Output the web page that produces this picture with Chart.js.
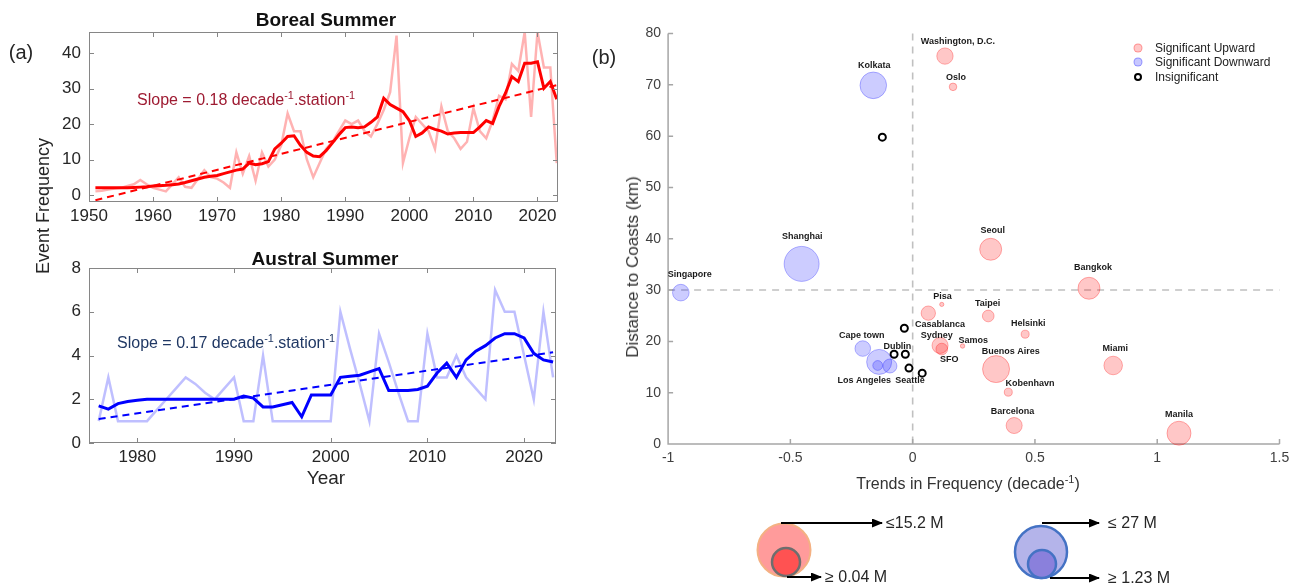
<!DOCTYPE html>
<html>
<head>
<meta charset="utf-8">
<script src="https://cdn.jsdelivr.net/npm/chart.js@4.4.1/dist/chart.umd.min.js"></script>
<style>
  body { margin:0; background:#fff; width:1298px; height:588px; position:relative; overflow:hidden;
         font-family:"Liberation Sans", Arial, sans-serif; color:#262626; }
  .abs { position:absolute; white-space:nowrap; }
  .c { transform:translate(-50%,-50%); }
  .vc { transform:translateY(-50%); }
  canvas { position:absolute; }
  sup { font-size:0.68em; vertical-align:0.55em; line-height:0; }
  .dot { position:absolute; border-radius:50%; box-sizing:border-box; transform:translate(-50%,-50%); }
</style>
</head>
<body>

<canvas id="boreal" width="580" height="230" style="left:0;top:0"></canvas>
<canvas id="austral" width="580" height="240" style="left:0;top:240px"></canvas>
<canvas id="cities" width="698" height="500" style="left:600px;top:0"></canvas>

<!-- panel (a) text -->
<div class="abs c" style="left:21px;top:52px;font-size:20px;">(a)</div>
<div class="abs c" style="left:326px;top:20px;font-size:19px;font-weight:bold;color:#111;">Boreal Summer</div>
<div class="abs c" style="left:325px;top:259px;font-size:19px;font-weight:bold;color:#111;">Austral Summer</div>
<div class="abs c" style="left:43px;top:206px;font-size:18px;transform:translate(-50%,-50%) rotate(-90deg);">Event Frequency</div>
<div class="abs c" style="left:326px;top:478px;font-size:19px;">Year</div>
<div class="abs vc" style="left:137px;top:100px;font-size:16px;color:#9e1b32;">Slope = 0.18 decade<sup>-1</sup>.station<sup>-1</sup></div>
<div class="abs vc" style="left:117px;top:343px;font-size:16px;color:#203864;">Slope = 0.17 decade<sup>-1</sup>.station<sup>-1</sup></div>

<!-- panel (b) text -->
<div class="abs c" style="left:604px;top:57px;font-size:20px;">(b)</div>
<div class="abs c" style="left:633px;top:267px;font-size:17px;color:#333;transform:translate(-50%,-50%) rotate(-90deg);">Distance to Coasts (km)</div>
<div class="abs c" style="left:968px;top:484px;font-size:16px;color:#333;">Trends in Frequency (decade<sup>-1</sup>)</div>

<!-- category legend -->
<div class="dot" style="left:1138px;top:48px;width:9px;height:9px;background:rgba(255,0,0,0.22);border:1px solid rgba(255,0,0,0.3);"></div>
<div class="dot" style="left:1138px;top:62px;width:9px;height:9px;background:rgba(0,0,255,0.22);border:1px solid rgba(0,0,255,0.3);"></div>
<div class="dot" style="left:1138px;top:77px;width:8px;height:8px;background:#fff;border:2px solid #000;"></div>
<div class="abs vc" style="left:1155px;top:48px;font-size:12px;color:#222;">Significant Upward</div>
<div class="abs vc" style="left:1155px;top:62px;font-size:12px;color:#222;">Significant Downward</div>
<div class="abs vc" style="left:1155px;top:77px;font-size:12px;color:#222;">Insignificant</div>

<!-- bubble size legend -->
<svg class="abs" style="left:740px;top:500px" width="420" height="88">
  <defs>
    <marker id="ah" markerWidth="11" markerHeight="9" refX="10" refY="4.5" orient="auto" markerUnits="userSpaceOnUse">
      <path d="M0,0 L11,4.5 L0,9 z" fill="#000"/>
    </marker>
  </defs>
  <circle cx="44" cy="50" r="26.5" fill="#ff9b9b" stroke="#f4b183" stroke-width="2"/>
  <circle cx="46" cy="62" r="14" fill="#ff5252" stroke="#6e6e6e" stroke-width="2.5"/>
  <line x1="41" y1="23" x2="142" y2="23" stroke="#000" stroke-width="2" marker-end="url(#ah)"/>
  <line x1="47" y1="77" x2="81" y2="77" stroke="#000" stroke-width="2" marker-end="url(#ah)"/>
  <circle cx="301" cy="52" r="26" fill="#b4b4ea" stroke="#4472c4" stroke-width="2.5"/>
  <circle cx="302" cy="64" r="14" fill="#8a80dc" stroke="#4472c4" stroke-width="2.5"/>
  <line x1="302" y1="23" x2="359" y2="23" stroke="#000" stroke-width="2" marker-end="url(#ah)"/>
  <line x1="310" y1="78" x2="359" y2="78" stroke="#000" stroke-width="2" marker-end="url(#ah)"/>
</svg>
<div class="abs vc" style="left:886px;top:523px;font-size:16px;">≤15.2 M</div>
<div class="abs vc" style="left:825px;top:577px;font-size:16px;">≥ 0.04 M</div>
<div class="abs vc" style="left:1108px;top:523px;font-size:16px;">≤ 27 M</div>
<div class="abs vc" style="left:1108px;top:578px;font-size:16px;">≥ 1.23 M</div>

<script>
// ---- (a) Boreal summer: yearly counts, smoothed curve, linear trend ----
var borealYears = [1951,1952,1953,1954,1955,1956,1957,1958,1959,1960,
                   1961,1962,1963,1964,1965,1966,1967,1968,1969,1970,
                   1971,1972,1973,1974,1975,1976,1977,1978,1979,1980,
                   1981,1982,1983,1984,1985,1986,1987,1988,1989,1990,
                   1991,1992,1993,1994,1995,1996,1997,1998,1999,2000,
                   2001,2002,2003,2004,2005,2006,2007,2008,2009,2010,
                   2011,2012,2013,2014,2015,2016,2017,2018,2019,2020,
                   2021,2022,2023];
var borealRaw = [1,1.2,1.5,1.8,2,2.5,3,4.2,3,2,
                 1.5,1,3,5,2.3,2,4.5,7,5,4.6,
                 3.5,2,12,6,11,4,12,8,10,14,
                 23,18,18,10,5,9,13,15,18,21,
                 20,21,18,16.5,20,24,29,45,9,16,
                 22,20,18,13,25,18,16,13,15,24.5,
                 18,16,21,28,27,37,35,46,22,46,
                 36,36,9];
var borealSmooth = [2,2,2,2,2,2,2.1,2.2,2.3,2.5,
                    2.6,2.7,2.9,3.1,3.5,4,4.5,5,5.3,5.5,
                    6,6.5,7,7.3,9,8.5,8.8,9.4,13,14.6,
                    16.5,16.7,14,12,11,10.8,12.5,14.7,17,19,
                    19.2,19,19.2,20.5,22,27.3,25.5,24.5,23.5,21,
                    16.5,17.5,19.2,18.5,18,17.2,17.5,17.6,17.6,17.6,
                    19.2,21,20.2,25,28.7,33.4,32,37.2,37.2,37.6,
                    30.1,32,27];
var borealTrendYears = [1951, 2023];
var borealTrendValues = [-1.5, 31];
var borealXTicks = [1950,1960,1970,1980,1990,2000,2010,2020];
var borealYTicks = [0,10,20,30,40];

// ---- (a) Austral summer ----
var australYears = [1976,1977,1978,1979,1980,1981,1982,1983,1984,1985,
                    1986,1987,1988,1989,1990,1991,1992,1993,1994,1995,
                    1996,1997,1998,1999,2000,2001,2002,2003,2004,2005,
                    2006,2007,2008,2009,2010,2011,2012,2013,2014,2015,
                    2016,2017,2018,2019,2020,2021,2022,2023];
var australRaw = [1,3,1,1,1,1,1.5,2,2.5,3,
                  2.7,2.3,2,2.5,3,1,1,4,1,1,
                  1,1,1,1,1,6,4.3,2.7,1,5,
                  3.7,2.3,1,1,5,3,3,4,3,2.5,
                  2,7,6,6,4,2,6,3];
var australSmooth = [1.7,1.55,1.8,1.9,1.95,2,2,2,2,2,
                     2,2,2,2,2,2.15,2.05,1.65,1.65,1.75,
                     1.85,1.2,2.2,2.2,2.2,3.0,3.05,3.1,3.25,3.4,
                     2.4,2.4,2.4,2.45,2.6,3.2,3.65,3.0,3.8,4.2,
                     4.45,4.8,5.0,5.0,4.8,4.1,3.8,3.7];
var australTrendYears = [1976, 2023];
var australTrendValues = [1.1, 4.15];
var australXTicks = [1980,1990,2000,2010,2020];
var australYTicks = [0,2,4,6,8];

// ---- (b) cities: trend (per decade), distance to coast (km), population (M) ----
var upCities = ['Washington, D.C.','Oslo','Seoul','Bangkok','Pisa','Casablanca','Taipei','Helsinki',
                'Samos','Sydney','SFO','Buenos Aires','Kobenhavn','Barcelona','Miami','Manila'];
var upTrend = [0.132,0.165,0.319,0.721,0.119,0.064,0.309,0.46,0.204,0.112,0.119,0.341,0.391,0.415,0.82,1.089];
var upDistance = [75.6,69.6,37.95,30.35,27.2,25.5,24.95,21.4,19.1,19.2,18.5,14.6,10.1,3.6,15.3,2.1];
var upPopulation = [4.7,0.56,9.5,9.5,0.04,3.4,2.0,0.66,0.06,4.5,2.0,15.2,0.66,4.5,6.4,11.6];

var downCities = ['Kolkata','Shanghai','Singapore','Cape town','Los Angeles','',''];
var downTrend = [-0.161,-0.454,-0.948,-0.204,-0.137,-0.143,-0.093];
var downDistance = [69.9,35.1,29.5,18.6,16.0,15.3,15.2];
var downPopulation = [14.7,27,4.9,4.2,12.8,1.23,3.2];

var insigCities = ['','','Dublin','','Seattle',''];
var insigTrend = [-0.124,-0.034,-0.076,-0.03,-0.015,0.039];
var insigDistance = [59.8,22.55,17.5,17.5,14.8,13.8];

var cityXTicks = [-1,-0.5,0,0.5,1,1.5];
var cityYTicks = [0,10,20,30,40,50,60,70,80];
var trendZero = 0;
var coastLine = 30;

// label placement (pixels from the bubble centre)
var labelOffsets = {
  'Washington, D.C.':[13,-15], 'Oslo':[3,-9.5], 'Seoul':[2,-18.6], 'Bangkok':[4,-21], 'Pisa':[0.7,-8.3],
  'Casablanca':[11.7,11.7], 'Taipei':[-0.6,-12], 'Helsinki':[3,-10.7], 'Samos':[10.6,-5.7],
  'Sydney':[-3.3,-10], 'SFO':[7.6,10.3], 'Buenos Aires':[14.7,-17.3], 'Kobenhavn':[21.7,-8.7],
  'Barcelona':[-1.6,-13.7], 'Miami':[2,-17], 'Manila':[0,-19],
  'Kolkata':[1,-19.6], 'Shanghai':[0.6,-27], 'Singapore':[9,-18], 'Cape town':[-1,-13],
  'Los Angeles':[-15,19], 'Dublin':[3.3,-8], 'Seattle':[1,12.7]
};

var FONT = '"Liberation Sans", Arial, sans-serif';
Chart.defaults.font.family = FONT;
Chart.defaults.animation = false;

function pts(xs, ys) {
  return xs.map(function (x, i) { return { x: x, y: ys[i] }; });
}

var boxTicks = {
  id: 'boxTicks',
  afterDraw: function (chart) {
    var ctx = chart.ctx, a = chart.chartArea, x = chart.scales.x, y = chart.scales.y;
    ctx.save();
    ctx.strokeStyle = '#868686';
    ctx.lineWidth = 1;
    ctx.strokeRect(Math.round(a.left) + 0.5, Math.round(a.top) + 0.5,
                   Math.round(a.width) - 1, Math.round(a.height) - 1);
    ctx.beginPath();
    x.ticks.forEach(function (t) {
      var px = Math.round(x.getPixelForValue(t.value)) + 0.5;
      ctx.moveTo(px, a.bottom); ctx.lineTo(px, a.bottom - 5);
      ctx.moveTo(px, a.top); ctx.lineTo(px, a.top + 5);
    });
    y.ticks.forEach(function (t) {
      var py = Math.round(y.getPixelForValue(t.value)) + 0.5;
      ctx.moveTo(a.left, py); ctx.lineTo(a.left + 5, py);
      ctx.moveTo(a.right, py); ctx.lineTo(a.right - 5, py);
    });
    ctx.stroke();
    ctx.restore();
  }
};

function seriesChart(id, years, raw, smooth, trendX, trendY, color, faint, xr, yr, xTicks, yTicks, pad, xH) {
  return new Chart(document.getElementById(id).getContext('2d'), {
    type: 'line',
    data: {
      datasets: [
        { data: pts(years, smooth), borderColor: color, borderWidth: 3, pointRadius: 0, tension: 0 },
        { data: pts(trendX, trendY), borderColor: color, borderWidth: 2, borderDash: [7, 5], pointRadius: 0 },
        { data: pts(years, raw), borderColor: faint, borderWidth: 2.5, pointRadius: 0, tension: 0 }
      ]
    },
    options: {
      responsive: false,
      layout: { padding: pad },
      plugins: { legend: { display: false }, tooltip: { enabled: false } },
      scales: {
        x: {
          type: 'linear', min: xr[0], max: xr[1],
          grid: { display: false, drawTicks: false }, border: { display: false },
          afterBuildTicks: function (s) { s.ticks = xTicks.map(function (v) { return { value: v }; }); },
          afterFit: function (s) { s.height = xH; },
          ticks: { font: { size: 17 }, color: '#262626', padding: 4, maxRotation: 0, autoSkip: false,
                   callback: function (v) { return String(v); } }
        },
        y: {
          min: yr[0], max: yr[1],
          grid: { display: false, drawTicks: false }, border: { display: false },
          afterBuildTicks: function (s) { s.ticks = yTicks.map(function (v) { return { value: v }; }); },
          afterFit: function (s) { s.width = 89; },
          ticks: { font: { size: 17 }, color: '#262626', padding: 8,
                   callback: function (v) { return String(v); } }
        }
      }
    },
    plugins: [boxTicks]
  });
}

seriesChart('boreal', borealYears, borealRaw, borealSmooth, borealTrendYears, borealTrendValues,
            '#ff0000', 'rgba(255,0,0,0.3)', [1950, 2023.2], [-2, 46], borealXTicks, borealYTicks,
            { top: 32, right: 22, bottom: 0, left: 0 }, 28);
seriesChart('austral', australYears, australRaw, australSmooth, australTrendYears, australTrendValues,
            '#0000ff', 'rgba(0,0,255,0.25)', [1975, 2023.3], [0, 8], australXTicks, australYTicks,
            { top: 28, right: 24, bottom: 0, left: 0 }, 37);

// ---- (b) bubble chart ----
function radius(pop) { return 1.5 + 12 * Math.sqrt(pop / 15.2); }

function bubbles(cities, tr, dist, pop, r0) {
  return cities.map(function (c, i) {
    return { x: tr[i], y: dist[i], r: pop ? radius(pop[i]) : r0, name: c };
  });
}

var cityDecor = {
  id: 'cityDecor',
  beforeDatasetsDraw: function (chart) {
    var ctx = chart.ctx, a = chart.chartArea, x = chart.scales.x, y = chart.scales.y;
    ctx.save();
    ctx.strokeStyle = '#c0c0c0';
    ctx.lineWidth = 1.6;
    ctx.setLineDash([7, 6]);
    var x0 = x.getPixelForValue(trendZero), y30 = y.getPixelForValue(coastLine);
    ctx.beginPath();
    ctx.moveTo(x0, a.top); ctx.lineTo(x0, a.bottom);
    ctx.moveTo(a.left, y30); ctx.lineTo(a.right, y30);
    ctx.stroke();
    ctx.setLineDash([]);
    ctx.strokeStyle = '#a6a6a6';
    ctx.lineWidth = 1.5;
    ctx.beginPath();
    ctx.moveTo(a.left, a.top); ctx.lineTo(a.left, a.bottom); ctx.lineTo(a.right, a.bottom);
    x.ticks.forEach(function (t) {
      var px = x.getPixelForValue(t.value);
      ctx.moveTo(px, a.bottom); ctx.lineTo(px, a.bottom - 5);
    });
    y.ticks.forEach(function (t) {
      var py = y.getPixelForValue(t.value);
      ctx.moveTo(a.left, py); ctx.lineTo(a.left + 5, py);
    });
    ctx.stroke();
    ctx.restore();
  },
  afterDatasetsDraw: function (chart) {
    var ctx = chart.ctx, x = chart.scales.x, y = chart.scales.y;
    ctx.save();
    ctx.font = 'bold 9px ' + FONT;
    ctx.fillStyle = '#1a1a1a';
    ctx.textAlign = 'center';
    ctx.textBaseline = 'middle';
    chart.data.datasets.forEach(function (ds) {
      ds.data.forEach(function (p) {
        if (!p.name) return;
        var off = labelOffsets[p.name] || [0, -12];
        ctx.fillText(p.name, x.getPixelForValue(p.x) + off[0], y.getPixelForValue(p.y) + off[1]);
      });
    });
    ctx.restore();
  }
};

new Chart(document.getElementById('cities').getContext('2d'), {
  type: 'bubble',
  data: {
    datasets: [
      { label: 'Significant Upward', data: bubbles(upCities, upTrend, upDistance, upPopulation),
        backgroundColor: 'rgba(255,0,0,0.22)', borderColor: 'rgba(255,0,0,0.3)', borderWidth: 1, clip: false },
      { label: 'Significant Downward', data: bubbles(downCities, downTrend, downDistance, downPopulation),
        backgroundColor: 'rgba(0,0,255,0.2)', borderColor: 'rgba(0,0,255,0.28)', borderWidth: 1, clip: false },
      { label: 'Insignificant', data: bubbles(insigCities, insigTrend, insigDistance, null, 3.5),
        backgroundColor: '#ffffff', borderColor: '#000000', borderWidth: 2, clip: false }
    ]
  },
  options: {
    responsive: false,
    layout: { padding: { top: 33.5, right: 18.4, bottom: 0, left: 0 } },
    plugins: { legend: { display: false }, tooltip: { enabled: false } },
    scales: {
      x: {
        type: 'linear', min: -1, max: 1.5,
        grid: { display: false, drawTicks: false }, border: { display: false },
        afterBuildTicks: function (s) { s.ticks = cityXTicks.map(function (v) { return { value: v }; }); },
        afterFit: function (s) { s.height = 56; },
        ticks: { font: { size: 14 }, color: '#404040', padding: 6, maxRotation: 0, autoSkip: false,
                 callback: function (v) { return String(v); } }
      },
      y: {
        min: 0, max: 80,
        grid: { display: false, drawTicks: false }, border: { display: false },
        afterBuildTicks: function (s) { s.ticks = cityYTicks.map(function (v) { return { value: v }; }); },
        afterFit: function (s) { s.width = 68.1; },
        ticks: { font: { size: 14 }, color: '#404040', padding: 7,
                 callback: function (v) { return String(v); } }
      }
    }
  },
  plugins: [cityDecor]
});
</script>
</body>
</html>
